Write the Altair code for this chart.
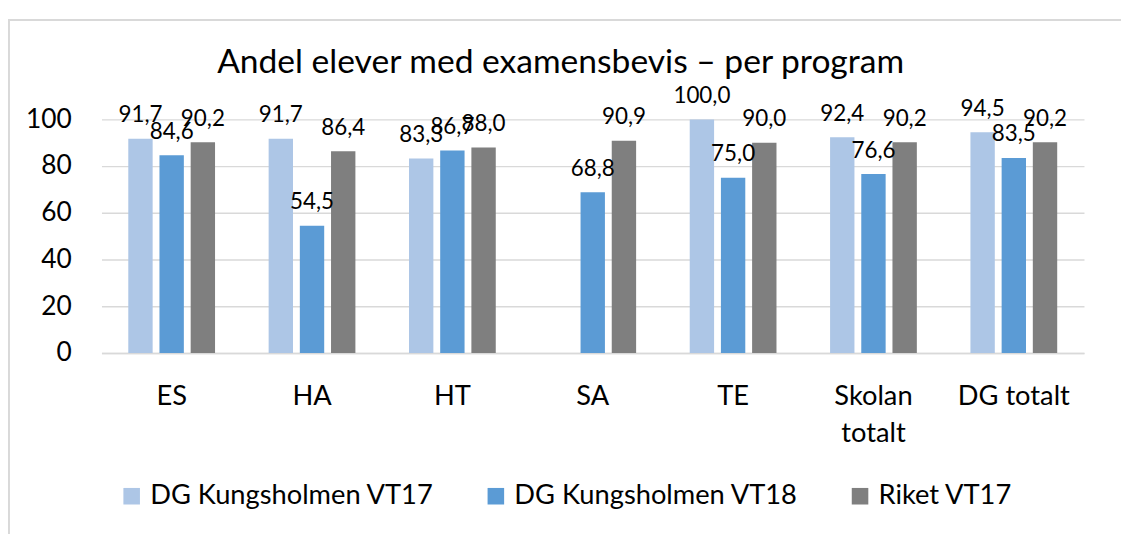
import altair as alt
import pandas as pd

categories = ["ES", "HA", "HT", "SA", "TE", "Skolan totalt", "DG totalt"]
series = ["DG Kungsholmen VT17", "DG Kungsholmen VT18", "Riket VT17"]
vt17 = [91.7, 91.7, 83.3, None, 100.0, 92.4, 94.5]
vt18 = [84.6, 54.5, 86.7, 68.8, 75.0, 76.6, 83.5]
riket = [90.2, 86.4, 88.0, 90.9, 90.0, 90.2, 90.2]
colors = ["#adc6e6", "#5b9bd5", "#7f7f7f"]
y_ticks = [0, 20, 40, 60, 80, 100]
title_text = "Andel elever med examensbevis – per program"

rows = []
for s, vals in zip(series, [vt17, vt18, riket]):
    for c, v in zip(categories, vals):
        if v is None:
            continue
        rows.append({"program": c, "serie": s, "andel": v,
                     "etikett": f"{v:.1f}".replace(".", ",")})
df = pd.DataFrame(rows)

FONT = "Lato"

base = alt.Chart(df).encode(
    x=alt.X("program:N", sort=categories,
            scale=alt.Scale(paddingInner=0, paddingOuter=0),
            axis=alt.Axis(title=None, labelFont=FONT, labelFontSize=28,
                          labelColor="#000", labelPadding=31, ticks=False,
                          domainColor="#d9d9d9", domainWidth=1.5, labelAngle=0,
                          labelOverlap=False, labelLineHeight=38,
                          labelExpr="datum.label == 'Skolan totalt' ? ['Skolan', 'totalt'] : datum.label")),
    xOffset=alt.XOffset("serie:N", sort=series,
                        scale=alt.Scale(domain=series, paddingInner=0.21875, paddingOuter=0.859)),
    y=alt.Y("andel:Q", scale=alt.Scale(domain=[0, 100]),
            axis=alt.Axis(title=None, values=y_ticks, labelFont=FONT, labelFontSize=27,
                          labelColor="#000", labelPadding=31, ticks=False, domain=False,
                          gridColor="#d9d9d9", gridWidth=1.5, labelOverlap=False)),
)

bars = base.mark_bar().encode(
    color=alt.Color("serie:N", sort=series,
                    scale=alt.Scale(domain=series, range=colors),
                    legend=alt.Legend(title=None, orient="none", legendX=17, legendY=373,
                                      direction="horizontal", symbolType="square",
                                      symbolSize=289, symbolStrokeWidth=0, symbolOpacity=1,
                                      labelFont=FONT, labelFontSize=28, labelColor="#000",
                                      labelOffset=5, columnPadding=49, padding=0,
                                      labelLimit=500))
)

labels = base.mark_text(dy=-17, baseline="alphabetic", font=FONT, fontSize=23,
                        color="#000").encode(text="etikett:N")

# chart frame (surrounding box; only its left and top edges fall inside the picture)
frame_df = pd.DataFrame({"k": [0]})
frame = alt.Chart(frame_df).mark_rect(
    fillOpacity=0, stroke="#d9d9d9", strokeWidth=2
).encode(x=alt.value(-95), x2=alt.value(1400), y=alt.value(-102), y2=alt.value(700))

chart = alt.layer(frame, bars, labels).properties(
    width=1009, height=240,
    padding={"left": 96, "top": 107, "right": 38, "bottom": 201},
    autosize="none",
    background="white",
    title=alt.TitleParams(title_text, font=FONT, fontSize=34.5, fontWeight="normal",
                          color="#000", anchor="middle", dx=-33, dy=67),
).configure_view(stroke=None)

chart.save("out.html", embed_options={"renderer": "svg", "actions": False})
